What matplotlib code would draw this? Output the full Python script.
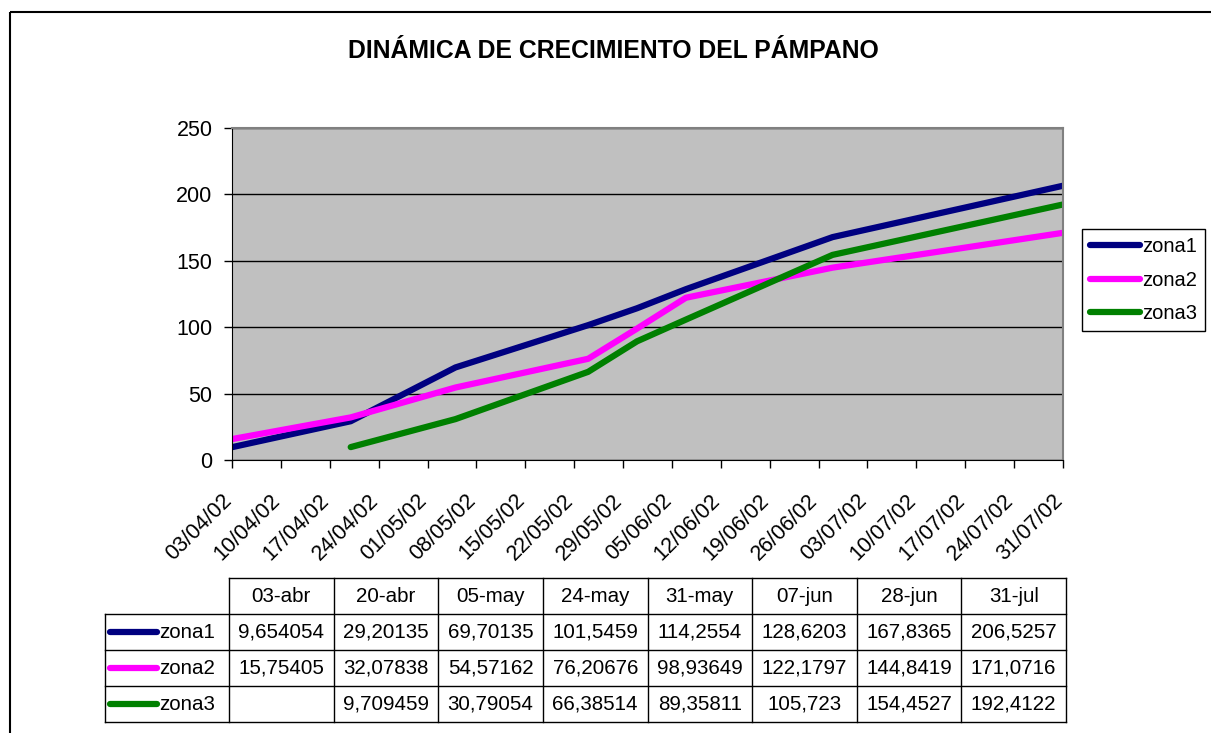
import numpy as np
import pandas as pd
import matplotlib
matplotlib.use('Agg')
import matplotlib.pyplot as plt
import matplotlib.dates as mdates
import matplotlib.transforms as mtransforms
from matplotlib.patches import Rectangle

plt.rcParams['font.family'] = ['Liberation Sans', 'DejaVu Sans']

# datos
fechas = pd.to_datetime(['2002-04-03', '2002-04-20', '2002-05-05', '2002-05-24',
                         '2002-05-31', '2002-06-07', '2002-06-28', '2002-07-31'])
etiquetas = ['03-abr', '20-abr', '05-may', '24-may', '31-may', '07-jun', '28-jun', '31-jul']
zona1 = [9.654054, 29.20135, 69.70135, 101.5459, 114.2554, 128.6203, 167.8365, 206.5257]
zona2 = [15.75405, 32.07838, 54.57162, 76.20676, 98.93649, 122.1797, 144.8419, 171.0716]
zona3 = [np.nan, 9.709459, 30.79054, 66.38514, 89.35811, 105.723, 154.4527, 192.4122]
nombres = ['zona1', 'zona2', 'zona3']
colores = ['#000080', '#FF00FF', '#008000']
series = [zona1, zona2, zona3]

W, H = 1211, 733
fig = plt.figure(figsize=(W / 100, H / 100), dpi=100)

# capa de fondo en pixeles para marco, titulo y tabla
bg = fig.add_axes([0, 0, 1, 1], zorder=0)
bg.set_xlim(0, W)
bg.set_ylim(H, 0)
bg.axis('off')
bg.add_patch(Rectangle((10, 12), W + 10, H + 10, fill=False, lw=1.5, ec='black'))
bg.text(613, 51, 'DINÁMICA DE CRECIMIENTO DEL PÁMPANO', ha='center', va='center',
        fontsize=17.8, fontweight='bold')

# grafico
ax = fig.add_axes([232 / W, 1 - 460 / H, (1063 - 232) / W, (460 - 128) / H], zorder=2)
ax.set_facecolor('#C0C0C0')
for s, nom, c in zip(series, nombres, colores):
    ax.plot(fechas, s, color=c, lw=4.5, solid_capstyle='round', label=nom)

semanas = pd.date_range('2002-04-03', '2002-07-31', freq='7D')
ax.set_xlim(semanas[0], semanas[-1])
ax.set_xticks(semanas)
ax.xaxis.set_major_formatter(mdates.DateFormatter('%d/%m/%y'))
ax.set_ylim(0, 250)
ax.set_yticks(np.arange(0, 251, 50))
ax.yaxis.grid(True, color='black', lw=1)
ax.set_axisbelow(True)
ax.tick_params(axis='both', direction='out', length=6, width=1)
ax.tick_params(axis='y', labelsize=15.5, pad=8)
ax.tick_params(axis='x', labelsize=15.5, pad=15.5)
desplaza = mtransforms.ScaledTranslation(-11 / 100, 0, fig.dpi_scale_trans)
for lab in ax.get_xticklabels():
    lab.set_rotation(45)
    lab.set_ha('right')
    lab.set_va('top')
    lab.set_rotation_mode('anchor')
    lab.set_transform(lab.get_transform() + desplaza)
for sp in ['top', 'right']:
    ax.spines[sp].set_color('#808080')
    ax.spines[sp].set_linewidth(1.5)

leg = ax.legend(loc='upper left', bbox_to_anchor=(1082 / W, 1 - 229 / H),
                bbox_transform=fig.transFigure, fancybox=False, edgecolor='black',
                framealpha=1, borderaxespad=0, fontsize=14.5, handlelength=2.5,
                handletextpad=0.1, labelspacing=0.72, borderpad=0.4)
leg.get_frame().set_linewidth(1)

# tabla de datos
x0, x1 = 229, 1066
xl = 105
ancho = (x1 - x0) / len(etiquetas)
ytop, alto = 578, 36
nfil = len(series) + 1
bg.plot([x0, x1], [ytop, ytop], color='black', lw=1)
for i in range(1, nfil + 1):
    y = ytop + i * alto
    bg.plot([xl, x1], [y, y], color='black', lw=1)
bg.plot([xl, xl], [ytop + alto, ytop + nfil * alto], color='black', lw=1)
for j in range(len(etiquetas) + 1):
    x = x0 + j * ancho
    bg.plot([x, x], [ytop, ytop + nfil * alto], color='black', lw=1)

for j, et in enumerate(etiquetas):
    bg.text(x0 + (j + 0.5) * ancho, ytop + alto / 2, et, ha='center', va='center', fontsize=14.8)
for i, (s, nom, c) in enumerate(zip(series, nombres, colores)):
    yc = ytop + (i + 1.5) * alto
    bg.plot([110, 157], [yc, yc], color=c, lw=4.5, solid_capstyle='round')
    bg.text(159, yc + 1, nom, ha='left', va='center', fontsize=14.8)
    for j, v in enumerate(s):
        if np.isnan(v):
            continue
        txt = f'{v:.7g}'.replace('.', ',')
        bg.text(x0 + (j + 0.5) * ancho, yc, txt, ha='center', va='center', fontsize=14.8)

fig.savefig('out.png', dpi=100)
